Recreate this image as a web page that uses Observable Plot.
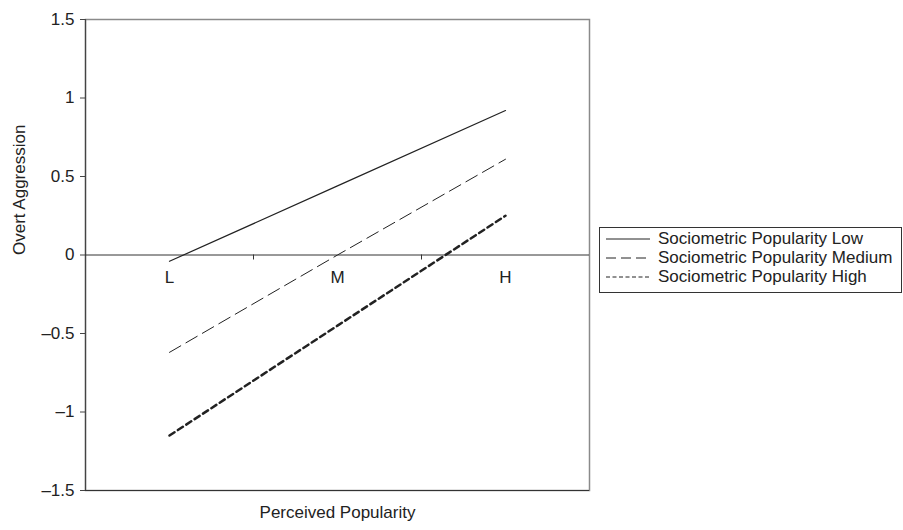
<!DOCTYPE html>
<html>
<head>
<meta charset="utf-8">
<script src="https://cdn.jsdelivr.net/npm/d3@7"></script>
<script src="https://cdn.jsdelivr.net/npm/@observablehq/plot@0.6"></script>
<style>
  body { margin: 0; background: #fff; }
  #wrap { position: relative; width: 903px; height: 530px; font-family: "Liberation Sans", Arial, sans-serif; }
  #legend { position: absolute; left: 599px; top: 227px; width: 303px; height: 66px; border: 1px solid #333; box-sizing: border-box; background: #fff; padding-top: 1px; }
  .row { display: flex; align-items: center; height: 19px; font-size: 17px; color: #222; white-space: nowrap; }
  .row svg { margin-left: 6px; margin-right: 8px; flex: none; }
</style>
</head>
<body>
<div id="wrap"><div id="legend"></div></div>
<script>
const categories = ["L", "M", "H"];
const seriesNames = ["Sociometric Popularity Low", "Sociometric Popularity Medium", "Sociometric Popularity High"];
const lowValues = [-0.04, 0.44, 0.92];
const mediumValues = [-0.62, 0.0, 0.61];
const highValues = [-1.15, -0.45, 0.25];
const yTicks = [-1.5, -1, -0.5, 0, 0.5, 1, 1.5];
const xTitle = "Perceived Popularity";
const yTitle = "Overt Aggression";

const styles = [
  {dash: null, width: 1.2, legendDash: null},
  {dash: "13,6", width: 1, legendDash: "10,5"},
  {dash: "6,4", width: 2.5, legendDash: "4,2.5"}
];
const allValues = [lowValues, mediumValues, highValues];
const rows = seriesNames.flatMap((s, k) => categories.map((c, i) => ({series: s, k, x: i + 1, y: allValues[k][i]})));
const boundaries = categories.slice(1).map((c, i) => i + 1.5);
const fmt = d => String(d).replace("-", "\u2013");

const chart = Plot.plot({
  width: 903,
  height: 530,
  marginLeft: 85,
  marginRight: 314,
  marginTop: 19,
  marginBottom: 40,
  style: {fontFamily: "Liberation Sans, Arial, sans-serif", fontSize: "17px", color: "#222", background: "transparent"},
  x: {type: "linear", domain: [0.5, categories.length + 0.5], axis: null},
  y: {domain: [-1.5, 1.5], axis: null},
  marks: [
    Plot.frame({stroke: "#8a8a8a", strokeWidth: 1.5}),
    Plot.ruleX([0.5], {stroke: "#444", strokeWidth: 1.2}),
    Plot.ruleY([-1.5], {stroke: "#333", strokeWidth: 1.2}),
    Plot.ruleY([0], {stroke: "#333", strokeWidth: 1}),
    Plot.axisY({ticks: yTicks, tickFormat: fmt, tickSize: 5, tickPadding: 6, label: null, fontSize: 17, stroke: "#444"}),
    Plot.ruleX(boundaries, {x: d => d, y1: 0, y2: 0, insetBottom: -5, stroke: "#333"}),
    ...seriesNames.map((s, k) => Plot.lineY(rows.filter(r => r.k === k), {
      x: "x", y: "y", stroke: "#222", strokeWidth: styles[k].width, strokeDasharray: styles[k].dash
    })),
    Plot.text(categories, {x: (d, i) => i + 1, y: 0, text: d => d, dy: 23, fontSize: 17, fill: "#222"}),
    Plot.text([xTitle], {frameAnchor: "bottom", dy: 27, fontSize: 17, fill: "#222"}),
    Plot.text([yTitle], {frameAnchor: "left", rotate: -90, dx: -66, fontSize: 17, fill: "#222"})
  ]
});
document.getElementById("wrap").prepend(chart);

const legend = document.getElementById("legend");
seriesNames.forEach((s, k) => {
  const row = document.createElement("div");
  row.className = "row";
  const ns = "http://www.w3.org/2000/svg";
  const svg = document.createElementNS(ns, "svg");
  svg.setAttribute("width", 44);
  svg.setAttribute("height", 10);
  const line = document.createElementNS(ns, "line");
  line.setAttribute("x1", 0); line.setAttribute("x2", 44);
  line.setAttribute("y1", 5); line.setAttribute("y2", 5);
  line.setAttribute("stroke", "#222");
  line.setAttribute("stroke-width", 1);
  if (styles[k].legendDash) line.setAttribute("stroke-dasharray", styles[k].legendDash);
  svg.appendChild(line);
  row.appendChild(svg);
  const span = document.createElement("span");
  span.textContent = s;
  row.appendChild(span);
  legend.appendChild(row);
});
</script>
</body>
</html>
